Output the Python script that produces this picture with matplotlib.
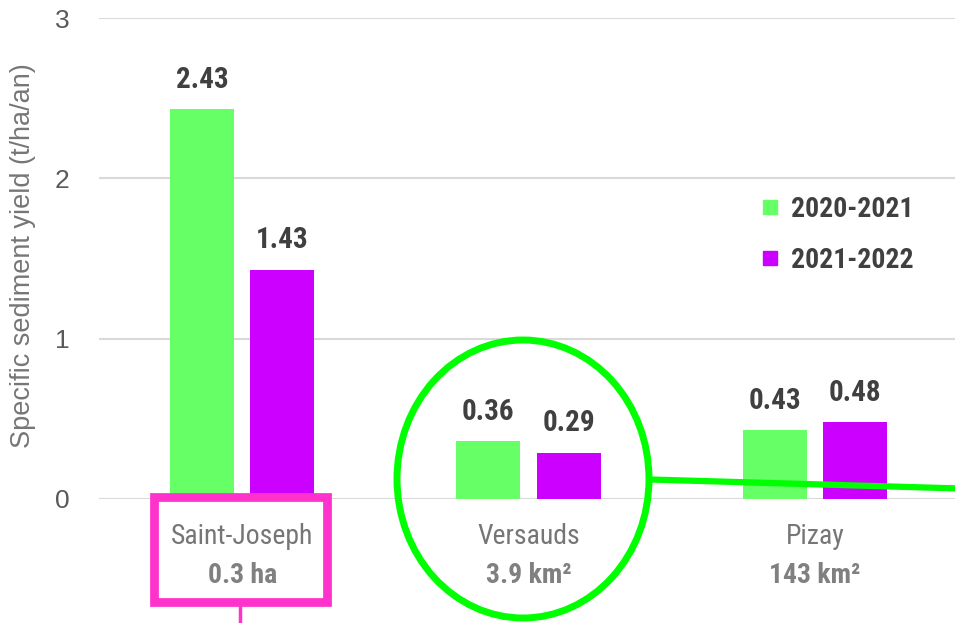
import matplotlib
matplotlib.use("Agg")
from matplotlib import pyplot as plt
from matplotlib import font_manager
from matplotlib.patches import Rectangle, Ellipse
from matplotlib.lines import Line2D
import numpy as np

# narrow sans like the original (Arial Narrow); take the first one we have
names = set(f.name for f in font_manager.fontManager.ttflist)
narrow = "Liberation Sans"
for cand in ["Liberation Sans Narrow", "Roboto Condensed", "Archivo Narrow", "Arimo"]:
    if cand in names:
        narrow = cand
        break
plt.rcParams['font.family'] = [narrow, 'DejaVu Sans']

sites = ["Saint-Joseph", "Versauds", "Pizay"]
areas = ["0.3 ha", "3.9 km²", "143 km²"]
y_2021 = [2.43, 0.36, 0.43]
y_2022 = [1.43, 0.29, 0.48]
series = ["2020-2021", "2021-2022"]

green = "#66FF66"
purple = "#CC00FF"

fig = plt.figure(figsize=(9.55, 6.23), dpi=100)
ax = fig.add_axes([99/955, 124/623, 859/955, 481/623])

x = np.arange(len(sites))
w = 0.223
b1 = ax.bar(x - 0.14, y_2021, width=w, color=green, label=series[0], zorder=3)
b2 = ax.bar(x + 0.14, y_2022, width=w, color=purple, label=series[1], zorder=3)

for bars in (b1, b2):
    ax.bar_label(bars, labels=["%.2f" % v for v in bars.datavalues], padding=11,
                 fontsize=21, fontweight="bold", color="#404040")

ax.set_xlim(-0.5, 2.5)
ax.set_ylim(0, 3)
ax.set_yticks([0, 1, 2, 3])
ax.grid(axis="y", color="#D9D9D9", linewidth=1.5, zorder=0)
for s in ax.spines.values():
    s.set_visible(False)
ax.tick_params(axis="both", length=0, labelsize=19, labelcolor="#595959")
ax.tick_params(axis="y", pad=21)
for t in ax.get_yticklabels():
    t.set_family(["Liberation Sans", "DejaVu Sans"])
ax.set_xticks(x)
ax.set_xticklabels(sites, fontsize=20, color="#767676")
ax.tick_params(axis="x", pad=17)
for i, a in enumerate(areas):
    ax.annotate(a, xy=(i, 0), xycoords=("data", "axes fraction"), xytext=(0, -55),
                textcoords="offset points", ha="center", va="center",
                fontsize=20, fontweight="bold", color="#808080")

ax.set_ylabel("Specific sediment yield (t/ha/an)", fontsize=19.5, color="#767676",
              family=["Liberation Sans", "DejaVu Sans"])
ax.yaxis.set_label_coords(-0.0735, 0.505)

handles = [Line2D([], [], marker="s", linestyle="none", markersize=10, color=c) for c in (green, purple)]
ax.legend(handles, series, loc="center left", bbox_to_anchor=(734/955, (623 - 235)/623),
          bbox_transform=fig.transFigure, frameon=False,
          prop={"weight": "bold", "size": 20}, labelcolor="#404040",
          handletextpad=0.35, labelspacing=0.85, handlelength=0.8)

# highlight shapes, placed in figure pixels
def fx(px):
    return px / 955

def fy(py):
    return (623 - py) / 623

pink = "#FF33CC"
fig.patches.append(Rectangle((fx(153.5), fy(601.5)), fx(327) - fx(153.5), fy(496.5) - fy(601.5),
                             transform=fig.transFigure, fill=False, edgecolor=pink, linewidth=6.3))
fig.lines.append(Line2D([fx(239.5), fx(239.5)], [fy(605), fy(630)], transform=fig.transFigure,
                        color=pink, linewidth=2.5))
fig.patches.append(Ellipse((fx(523), fy(479)), fx(252), 278/623, transform=fig.transFigure,
                           fill=False, edgecolor="#00FF00", linewidth=5))
fig.lines.append(Line2D([fx(650), fx(960)], [fy(479.5), fy(488.5)], transform=fig.transFigure,
                        color="#00FF00", linewidth=4.5))

fig.savefig("out.png", dpi=100)
